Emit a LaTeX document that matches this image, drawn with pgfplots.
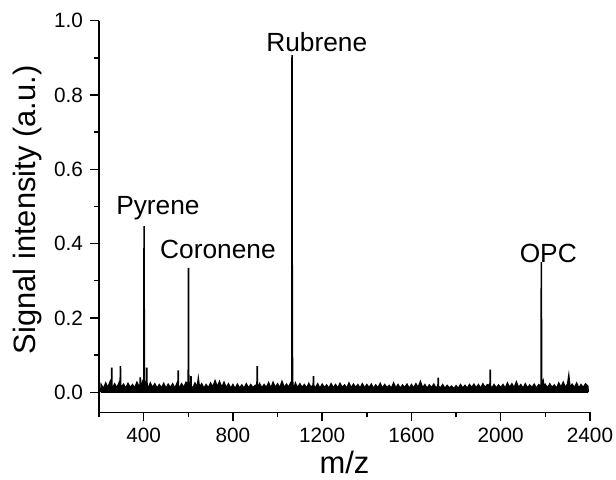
\documentclass[border=0pt]{standalone}
\usepackage{pgfplots}
\pgfplotsset{compat=1.18}
\usepackage{fontspec}
\setmainfont{Liberation Sans}

% mass spectrum: noise band with the four labelled peaks
\pgfplotstableread{
x y
208 0.0
210 0.020
220 0.009
230 0.024
240 0.012
250 0.028
256 0.014
257 0.066
258 0.014
260 0.010
270 0.022
280 0.011
290 0.025
295 0.015
296 0.070
297 0.015
300 0.013
310 0.021
320 0.010
330 0.023
340 0.012
350 0.020
360 0.011
370 0.026
380 0.014
384 0.020
385 0.040
386 0.018
390 0.012
395 0.028
401 0.020
402 0.447
403 0.030
406 0.012
410 0.024
413 0.020
414 0.066
415 0.018
420 0.010
430 0.024
440 0.012
450 0.022
460 0.010
470 0.020
480 0.011
490 0.023
500 0.010
510 0.021
520 0.012
530 0.022
540 0.010
550 0.024
554 0.016
555 0.059
556 0.014
560 0.011
570 0.022
580 0.012
590 0.026
600 0.020
601 0.335
602 0.022
606 0.012
611 0.020
612 0.043
613 0.016
620 0.010
630 0.024
640 0.013
645 0.035
650 0.012
660 0.022
670 0.010
680 0.020
690 0.011
700 0.024
710 0.013
720 0.030
730 0.014
740 0.028
750 0.012
760 0.026
770 0.011
780 0.022
790 0.010
800 0.020
810 0.009
820 0.021
830 0.011
840 0.019
850 0.010
860 0.022
870 0.011
880 0.020
890 0.012
900 0.018
908 0.020
909 0.070
910 0.020
915 0.010
920 0.022
930 0.011
940 0.020
950 0.012
960 0.025
970 0.010
980 0.026
990 0.012
1000 0.022
1010 0.011
1020 0.028
1030 0.012
1040 0.021
1050 0.013
1058 0.024
1064 0.030
1065 0.907
1066 0.060
1067 0.093
1068 0.020
1075 0.012
1080 0.024
1090 0.011
1100 0.022
1110 0.012
1120 0.020
1130 0.010
1140 0.023
1150 0.012
1160 0.020
1161 0.043
1162 0.018
1170 0.011
1180 0.022
1190 0.010
1200 0.021
1210 0.012
1220 0.019
1230 0.010
1240 0.022
1250 0.011
1260 0.020
1270 0.010
1280 0.023
1290 0.012
1300 0.019
1310 0.010
1320 0.024
1330 0.011
1340 0.021
1350 0.012
1360 0.020
1370 0.010
1380 0.022
1390 0.011
1400 0.020
1410 0.012
1420 0.021
1430 0.010
1440 0.019
1450 0.011
1460 0.023
1470 0.010
1480 0.020
1490 0.012
1500 0.018
1510 0.010
1520 0.024
1530 0.011
1540 0.020
1550 0.010
1560 0.019
1570 0.012
1580 0.021
1590 0.010
1600 0.020
1610 0.011
1620 0.022
1630 0.012
1640 0.028
1650 0.011
1660 0.020
1670 0.010
1680 0.019
1690 0.012
1700 0.021
1710 0.010
1719 0.018
1720 0.039
1721 0.016
1730 0.011
1740 0.020
1750 0.010
1760 0.018
1770 0.011
1780 0.016
1790 0.009
1800 0.017
1810 0.010
1820 0.020
1830 0.011
1840 0.018
1850 0.010
1860 0.020
1870 0.012
1880 0.021
1890 0.011
1900 0.020
1910 0.010
1920 0.022
1930 0.012
1940 0.020
1952 0.018
1953 0.061
1954 0.016
1960 0.010
1970 0.020
1980 0.011
1990 0.019
2000 0.012
2010 0.020
2020 0.010
2030 0.024
2040 0.012
2050 0.022
2060 0.011
2070 0.027
2080 0.012
2090 0.020
2100 0.010
2110 0.022
2120 0.011
2130 0.019
2140 0.012
2150 0.021
2160 0.010
2170 0.020
2181 0.016
2182 0.350
2183 0.018
2190 0.030
2195 0.012
2200 0.020
2210 0.011
2220 0.022
2230 0.012
2240 0.019
2250 0.010
2260 0.024
2270 0.013
2280 0.026
2290 0.012
2300 0.022
2305 0.043
2310 0.014
2320 0.021
2330 0.012
2340 0.024
2350 0.011
2360 0.020
2370 0.012
2380 0.022
2390 0.016
2392 0.0
}\spectrum

\begin{document}
\begin{tikzpicture}
\begin{axis}[
    scale only axis,
    width=245.5bp, height=195.8bp,
    xmin=200, xmax=2400,
    ymin=-0.054, ymax=1.0,
    axis lines*=left,
    axis line style={line width=0.75bp},
    xtick={400,800,1200,1600,2000,2400},
    minor xtick={200,600,1000,1400,1800,2200},
    ytick={0,0.2,0.4,0.6,0.8,1.0},
    minor ytick={0.1,0.3,0.5,0.7,0.9},
    tick align=outside,
    major tick length=4.5bp,
    minor tick length=2.5bp,
    tick style={black, line width=0.7bp},
    /pgf/number format/assume math mode=true,
    /pgf/number format/1000 sep={},
    yticklabel style={/pgf/number format/.cd, fixed, fixed zerofill, precision=1},
    tick label style={font=\fontsize{10.4}{12}\selectfont},
    xlabel={m/z},
    ylabel={Signal intensity (a.u.)},
    label style={font=\fontsize{15.5}{18}\selectfont},
    xlabel style={at={(axis description cs:0.5,-0.155)}, anchor=base},
    ylabel style={at={(axis description cs:-0.146,0.517)}, anchor=center},
    clip=false,
]
\addplot[black, line width=0.8bp, fill=black, sharp plot, mark=none] table {\spectrum};
\addplot[black, line width=2bp, mark=none] coordinates {(208,0.004) (2392,0.004)};

\coordinate (bl) at (rel axis cs:0,0);
\coordinate (tr) at (rel axis cs:1,1);

\node[font=\fontsize{13.2}{15}\selectfont, anchor=base] at (axis cs:1176,0.917) {Rubrene};
\node[font=\fontsize{13.2}{15}\selectfont, anchor=base] at (axis cs:464,0.479) {Pyrene};
\node[font=\fontsize{13.2}{15}\selectfont, anchor=base] at (axis cs:733,0.359) {Coronene};
\node[font=\fontsize{13.2}{15}\selectfont, anchor=base] at (axis cs:2213,0.350) {OPC};
\end{axis}
\pgfresetboundingbox
\path[use as bounding box] ([shift={(-49.5bp,-33.85bp)}]bl) rectangle ([shift={(13bp,10.35bp)}]tr);
\end{tikzpicture}
\end{document}
